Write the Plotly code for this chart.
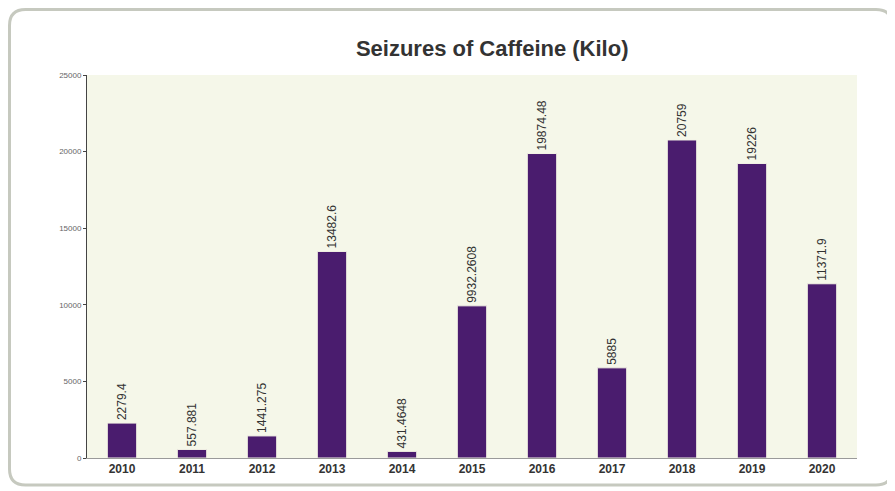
import plotly.graph_objects as go

years = ["2010", "2011", "2012", "2013", "2014", "2015", "2016", "2017", "2018", "2019", "2020"]
seizures = [2279.4, 557.881, 1441.275, 13482.6, 431.4648, 9932.2608, 19874.48, 5885, 20759, 19226, 11371.9]
labels = ["2279.4", "557.881", "1441.275", "13482.6", "431.4648", "9932.2608", "19874.48", "5885", "20759", "19226", "11371.9"]
y_ticks = [0, 5000, 10000, 15000, 20000, 25000]
y_tick_text = ["0", "5000", "10000", "15000", "20000", "25000"]

fig = go.Figure()
fig.add_trace(go.Bar(
    x=years, y=seizures, text=labels,
    textposition="outside", textangle=-90, constraintext="none",
    textfont=dict(family="Liberation Sans, Arial", size=12, color="#333333"),
    marker=dict(color="#4a1c6e", line=dict(color="#f4f4e6", width=1)),
    width=0.42, cliponaxis=False,
))

r = 16
L, R, T, B = -77.5, 805, 448.5, -27
path = (f"M {L+r},{B} L {R-r},{B} Q {R},{B} {R},{B+r} L {R},{T-r} Q {R},{T} {R-r},{T} "
        f"L {L+r},{T} Q {L},{T} {L},{T-r} L {L},{B+r} Q {L},{B} {L+r},{B} Z")
fig.add_shape(type="path", xref="paper", yref="paper", xsizemode="pixel", ysizemode="pixel",
              xanchor=0, yanchor=0, path=path, line=dict(color="#c6c9bf", width=3), layer="above")

fig.update_layout(
    width=895, height=491,
    margin=dict(l=79, r=46, t=67, b=41),
    paper_bgcolor="white", plot_bgcolor="#f5f7e9",
    title=dict(text="<b>Seizures of Caffeine (Kilo)</b>", x=0.541, xanchor="center", y=0.918, yanchor="middle",
               font=dict(family="Liberation Sans, Arial", size=22, color="#333333")),
    showlegend=False,
    uniformtext=dict(minsize=12, mode="show"),
)
fig.update_xaxes(showgrid=False, showline=True, linecolor="#9a9a9a", linewidth=1,
                 tickfont=dict(family="Liberation Sans, Arial", size=12, color="#333333"),
                 ticks="", tickprefix="<b>", ticksuffix="</b>")
fig.update_yaxes(range=[0, 25000], tickvals=y_ticks, ticktext=y_tick_text, showgrid=False, zeroline=False,
                 showline=True, linecolor="#444444", linewidth=1,
                 ticks="outside", ticklen=3, tickcolor="#444444",
                 tickfont=dict(family="Liberation Sans, Arial", size=8, color="#666666"))

fig.write_html("out.html")
